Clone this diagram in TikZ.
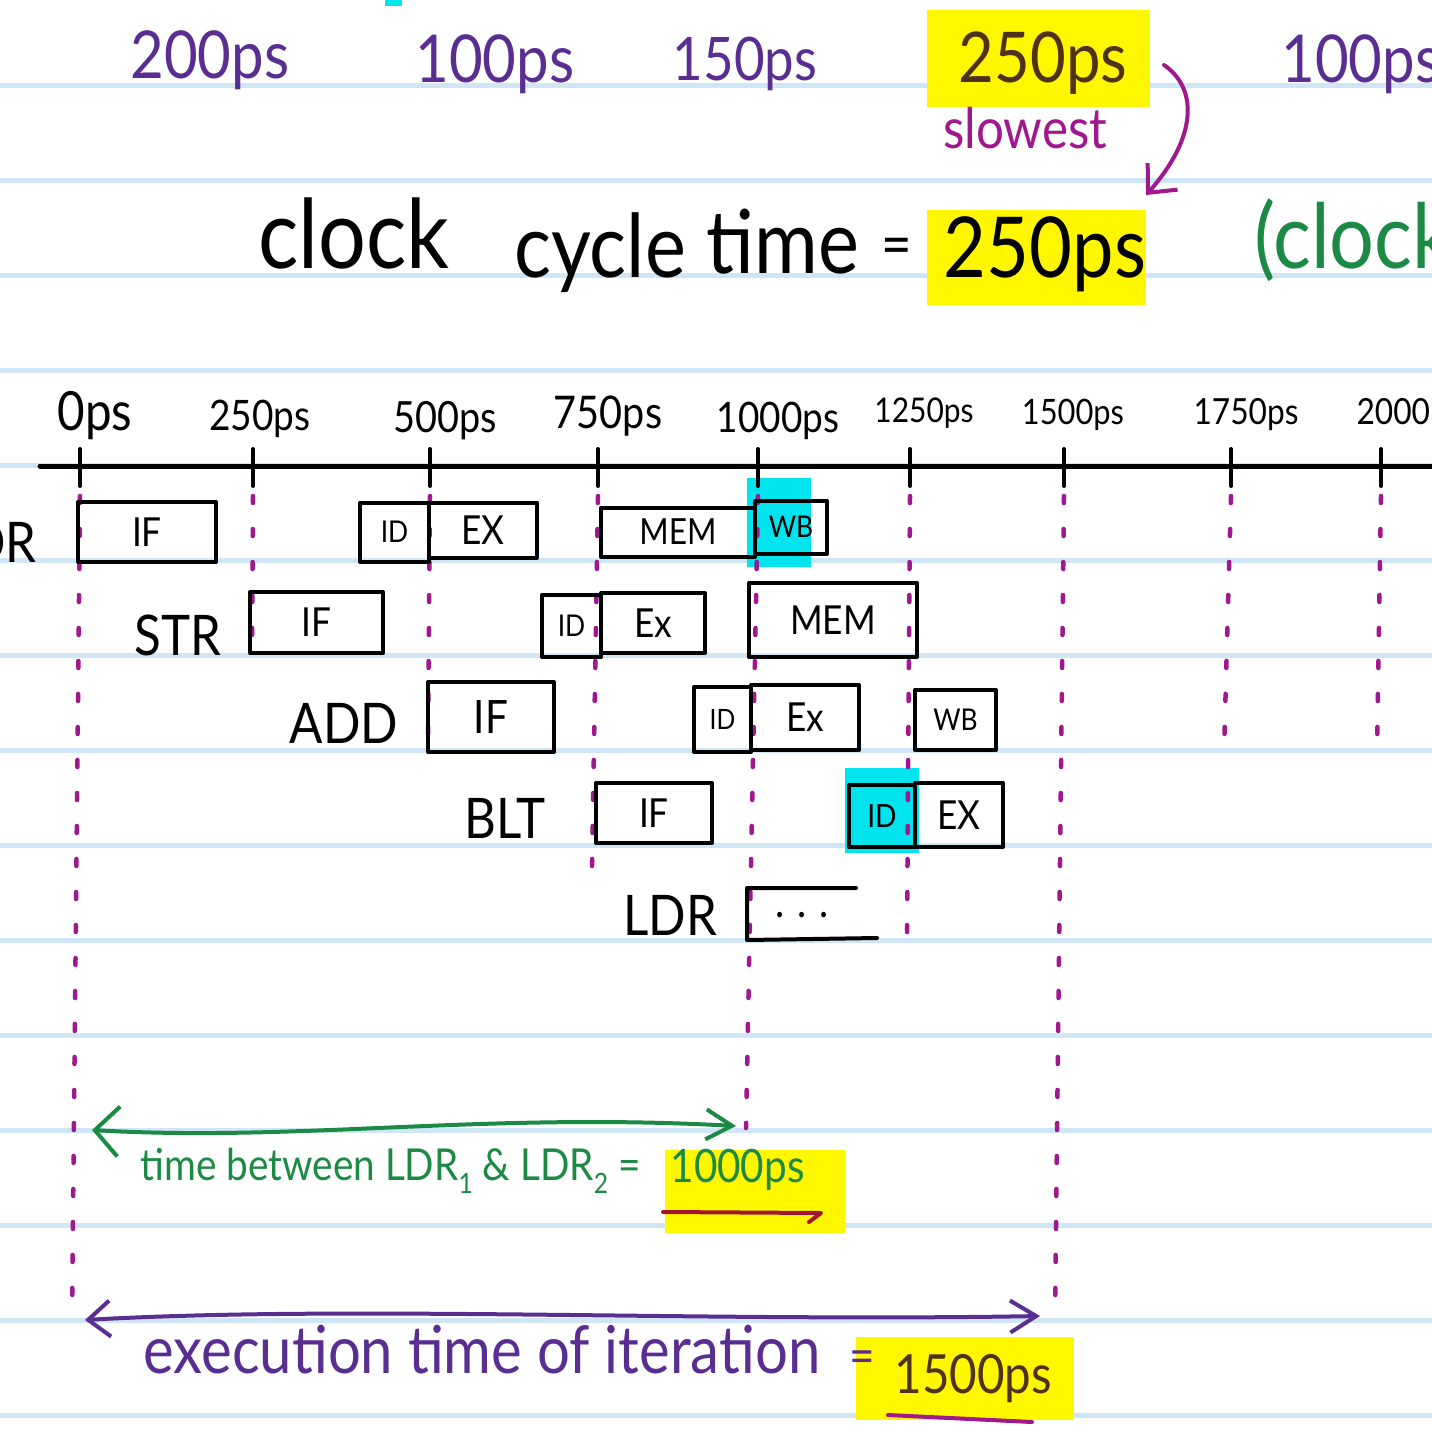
\documentclass[tikz,border=0pt]{standalone}
\usepackage{fontspec}
\setmainfont{Lato}[FakeStretch=0.88]
\usetikzlibrary{arrows.meta}
\definecolor{ruleblue}{HTML}{CFE6F7}
\definecolor{penpurple}{HTML}{5A2D91}
\definecolor{penmagenta}{HTML}{A0188E}
\definecolor{pengreen}{HTML}{1C8A44}
\definecolor{penred}{HTML}{A3142E}
\definecolor{penbrown}{HTML}{4F3217}
\definecolor{hlyellow}{HTML}{FFF700}
\definecolor{hlcyan}{HTML}{00E4EE}
\newcommand{\handsize}[1]{\fontsize{#1}{#1}\selectfont}
\newcommand{\lsub}[1]{\raisebox{-0.3em}{\handsize{28}#1}}

\begin{document}
\begin{tikzpicture}[x=1pt, y=-1pt,
  ruled/.style={ruleblue, line width=5pt},
  ink/.style={line width=4pt, line cap=round, line join=round},
  stage/.style={draw, ink, inner sep=0pt, font=\handsize{40}},
  instr/.style={anchor=base, font=\handsize{56}},
  tlabel/.style={anchor=base},
  dotline/.style={penmagenta, line width=4.5pt, line cap=round, dash pattern=on 7pt off 26pt}
]
\useasboundingbox (0,0) rectangle (1432,1432);
\clip (0,0) rectangle (1432,1432);
\fill[white] (0,0) rectangle (1432,1432);

% ruled paper
\foreach \y in {85,180,...,1415}
  \draw[ruled] (0,\y) -- (1432,\y);

% highlighter
\fill[hlyellow] (927,10) rectangle (1150,107);
\fill[hlyellow] (927,210) rectangle (1146,305);
\fill[hlyellow] (665,1150) rectangle (845,1233);
\fill[hlyellow] (856,1337) rectangle (1074,1420);
\fill[hlcyan] (385,0) rectangle (402,6);
\fill[hlcyan] (747,478) rectangle (811,567);
\fill[hlcyan] (845,768) rectangle (919,853);

% stage latencies
\node[tlabel, penpurple, font=\handsize{66}] (lat1) at (210,78) {200ps};
\node[tlabel, penpurple, font=\handsize{66}] (lat2) at (495,82) {100ps};
\node[tlabel, penpurple, font=\handsize{60}] (lat3) at (745,80) {150ps};
\node[tlabel, penbrown, font=\handsize{70}] (lat4) at (1043,82) {250ps};
\node[tlabel, penpurple, font=\handsize{66}, anchor=base west] (lat5) at (1278,82) {100ps};
\node[tlabel, penmagenta, font=\handsize{56}] (slow) at (1025,148) {slowest};
\coordinate (bendtop) at (1164,65);
\coordinate (bendend) at (1146,195);
\draw[ink, penmagenta, -{Straight Barb[length=22pt,width=40pt]}] (bendtop) .. controls (1200,90) and (1195,140) .. (bendend);

% clock cycle
\node[tlabel, font=\handsize{96}] (clk) at (354,268) {clock};
\node[tlabel, font=\handsize{88}] (cyc) at (600,277) {cycle};
\node[tlabel, font=\handsize{88}] (tim) at (783,273) {time};
\node[font=\handsize{60}] (eq) at (897,252) {=};
\node[tlabel, font=\handsize{84}] (cct) at (1045,277) {250ps};
\node[tlabel, pengreen, font=\handsize{90}, anchor=base west] (note) at (1251,268) {(clock};

% time axis
\coordinate (axstart) at (40,466);
\coordinate (axend) at (1432,466);
\draw[ink, line width=5pt] (axstart) -- (axend);
\foreach \n/\x/\ex/\ey in {0/80/72/1320, 1/253/252/652, 2/430/428/745, 3/598/592/870,
    4/758/746/1128, 5/910/907/937, 6/1064/1055/1318, 7/1231/1224/752, 8/1381/1377/752} {
  \coordinate (t\n) at (\x,466);
  \coordinate (s\n) at (\x,496);
  \coordinate (e\n) at (\ex,\ey);
  \draw[ink] (\x,449) -- (\x,486);
  \draw[dotline] (s\n) -- (e\n);
}
\node[tlabel, font=\handsize{54}] (l0) at (95,430) {0ps};
\node[tlabel, font=\handsize{42}] (l1) at (260,430) {250ps};
\node[tlabel, font=\handsize{43}] (l2) at (445,432) {500ps};
\node[tlabel, font=\handsize{45}] (l3) at (608,428) {750ps};
\node[tlabel, font=\handsize{42}] (l4) at (778,432) {1000ps};
\node[tlabel, font=\handsize{34}] (l5) at (924,422) {1250ps};
\node[tlabel, font=\handsize{35}] (l6) at (1073,424) {1500ps};
\node[tlabel, font=\handsize{36}] (l7) at (1246,424) {1750ps};
\node[tlabel, font=\handsize{36}, anchor=base west] (l8) at (1353,424) {2000ps};

% LDR
\node[instr, anchor=base east] (i1) at (40,562) {LDR};
\node[stage, minimum width=138pt, minimum height=60pt] (if1) at (147,532) {IF};
\node[stage, minimum width=69pt, minimum height=59pt, font=\handsize{30}] (id1) at (394.5,532) {ID};
\node[stage, minimum width=108pt, minimum height=55pt] (ex1) at (483,530) {EX};
\node[stage, minimum width=154pt, minimum height=49pt, font=\handsize{36}] (mem1) at (678,532) {MEM};
\node[stage, minimum width=72pt, minimum height=53pt, font=\handsize{30}] (wb1) at (791,527) {WB};

% STR
\node[instr] (i2) at (178,655) {STR};
\node[stage, minimum width=133pt, minimum height=61pt] (if2) at (316.5,622.5) {IF};
\node[stage, minimum width=59pt, minimum height=62pt, font=\handsize{30}] (id2) at (571.5,626) {ID};
\node[stage, minimum width=104pt, minimum height=60pt] (ex2) at (653,623) {Ex};
\node[stage, minimum width=168pt, minimum height=74pt] (mem2) at (833,620) {MEM};

% ADD
\node[instr] (i3) at (344,743) {ADD};
\node[stage, minimum width=126pt, minimum height=70pt, font=\handsize{46}] (if3) at (491,717) {IF};
\node[stage, minimum width=57pt, minimum height=65pt, font=\handsize{28}] (id3) at (722.5,719.5) {ID};
\node[stage, minimum width=108pt, minimum height=65pt] (ex3) at (805,717.5) {Ex};
\node[stage, minimum width=81pt, minimum height=60pt, font=\handsize{30}] (wb3) at (955.5,720) {WB};

% BLT
\node[instr] (i4) at (505,838) {BLT};
\node[stage, minimum width=116pt, minimum height=60pt] (if4) at (654,813) {IF};
\node[stage, minimum width=66pt, minimum height=62pt, font=\handsize{32}] (id4) at (882,816) {ID};
\node[stage, minimum width=88pt, minimum height=64pt] (ex4) at (959,815) {EX};

% next LDR
\node[instr] (i5) at (670,935) {LDR};
\node[tlabel, font=\handsize{44}] (more) at (802,917) {. . .};
\draw[ink] (856,888) -- (747,888) -- (747,940) -- (877,938);

% time between loads
\coordinate (g1) at (92,1130);
\coordinate (g2) at (736,1126);
\draw[ink, pengreen, {Straight Barb[length=24pt,width=50pt]}-{Straight Barb[length=26pt,width=30pt]}] (g1) .. controls (300,1142) and (480,1112) .. (g2);
\node[tlabel, anchor=base west, pengreen, font=\handsize{44}] (gap) at (137,1180) {time between LDR\lsub{1} \& LDR\lsub{2} =};
\node[tlabel, anchor=base west, pengreen, font=\handsize{46}] (gapval) at (667,1182) {1000ps};
\draw[ink, penred] (663,1212) -- (821,1213) -- (809,1222);

% execution time
\coordinate (p1) at (85,1320);
\coordinate (p2) at (1040,1316);
\draw[ink, penpurple, {Straight Barb[length=22pt,width=36pt]}-{Straight Barb[length=26pt,width=32pt]}] (p1) .. controls (350,1305) and (700,1322) .. (p2);
\node[tlabel, anchor=base west, penpurple, font=\handsize{66}] (exec) at (140,1373) {execution time of iteration};
\node[penpurple, font=\handsize{50}] (eq2) at (862,1362) {=};
\node[tlabel, anchor=base west, penbrown, font=\handsize{54}] (execval) at (891,1393) {1500ps};
\draw[ink, penmagenta] (888,1415) -- (1032,1422);
\end{tikzpicture}
\end{document}
